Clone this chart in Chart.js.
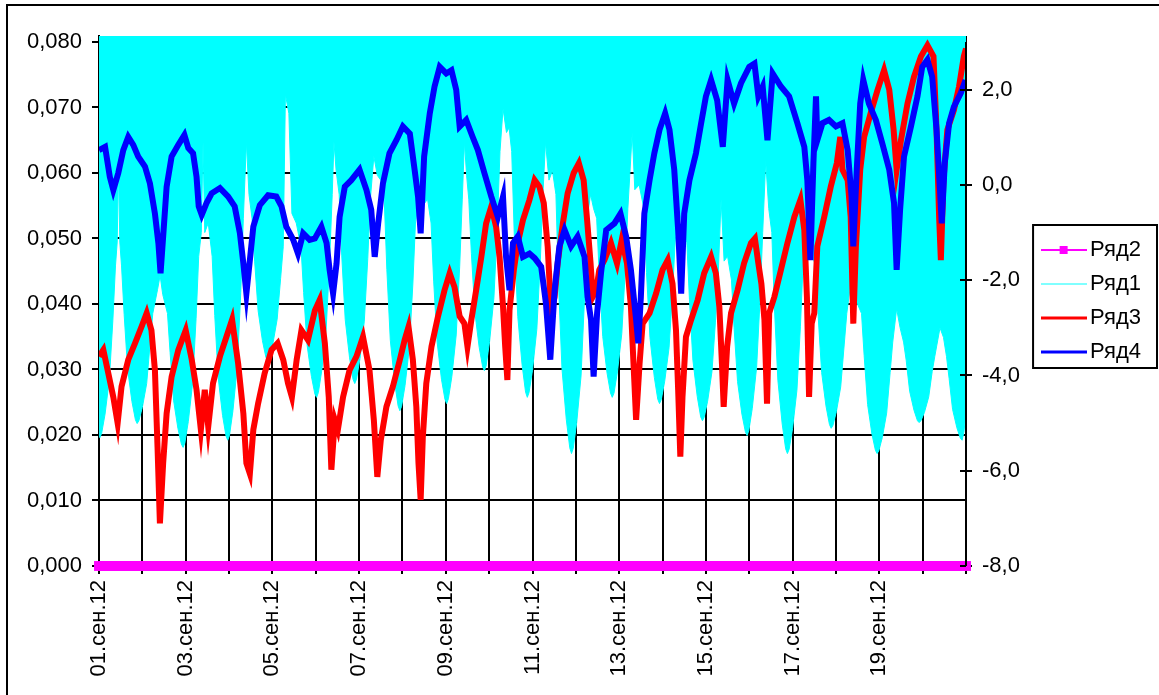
<!DOCTYPE html>
<html>
<head>
<meta charset="utf-8">
<script src="https://cdn.jsdelivr.net/npm/chart.js@4.4.0/dist/chart.umd.min.js"></script>
<style>
html, body { margin: 0; padding: 0; background: #fff; overflow: hidden; }
#wrap { position: relative; width: 1159px; height: 695px; }
#frame { position: absolute; left: 6px; top: 4px; width: 1200px; height: 800px; border: 2px solid #000; }
#myChart { position: absolute; left: 0; top: 0; }
</style>
</head>
<body>
<div id="wrap">
  <div id="frame"></div>
  <canvas id="myChart" width="1159" height="695"></canvas>
</div>
<script>
//-------------Data (x = days since 01.09.2012)
const dateLabels = ['01.сен.12','03.сен.12','05.сен.12','07.сен.12','09.сен.12','11.сен.12','13.сен.12','15.сен.12','17.сен.12','19.сен.12']

// Ряд2 - flat at zero
const pinkDays = [0,1,2,3,4,5,6,7,8,9,10,11,12,13,14,15,16,17,18,19,20]
const pinkVals = [0,0,0,0,0,0,0,0,0,0,0,0,0,0,0,0,0,0,0,0,0]

// Ряд1 - lower edge of the cyan band (right axis), top is off the scale
const cyanDays = [0,0.02,0.06,0.14,0.24,0.32,0.38,0.42,0.45,0.48,0.52,
  0.58,0.66,0.76,0.84,0.88,0.92,1.00,1.10,1.18,1.24,1.35,1.41,1.47,1.58,
  1.64,1.72,1.82,1.90,1.94,1.98,2.06,2.16,2.24,2.30,2.36,2.40,2.44,2.52,2.61,
  2.67,2.75,2.85,2.93,2.97,3.01,3.09,3.19,3.27,3.33,3.40,3.46,3.53,
  3.59,3.67,3.77,3.85,3.89,3.93,4.01,4.11,4.19,4.25,4.30,4.38,4.45,4.55,4.66,
  4.72,4.80,4.90,4.98,5.02,5.06,5.14,5.24,5.32,5.38,5.42,5.47,5.54,
  5.60,5.68,5.78,5.86,5.90,5.94,6.02,6.12,6.20,6.26,6.34,6.42,6.50,6.58,
  6.64,6.72,6.82,6.90,6.94,6.98,7.06,7.16,7.24,7.30,7.40,7.50,7.58,7.66,
  7.72,7.80,7.90,7.98,8.02,8.06,8.14,8.24,8.32,8.38,8.43,8.48,8.53,
  8.59,8.67,8.77,8.85,8.89,8.93,9.01,9.11,9.19,9.25,9.32,9.40,9.46,9.52,
  9.58,9.66,9.76,9.84,9.88,9.92,10.00,10.10,10.18,10.24,10.30,10.38,10.46,10.54,
  10.60,10.68,10.78,10.86,10.90,10.94,11.02,11.12,11.20,11.26,11.34,11.41,11.48,
  11.54,11.62,11.72,11.80,11.84,11.88,11.96,12.06,12.14,12.20,12.30,12.36,12.46,12.57,
  12.63,12.71,12.81,12.89,12.93,12.97,13.05,13.15,13.23,13.29,13.38,13.46,13.56,
  13.62,13.70,13.80,13.88,13.92,13.96,14.04,14.14,14.22,14.28,14.35,14.42,14.50,14.59,
  14.65,14.73,14.83,14.91,14.95,14.99,15.07,15.17,15.25,15.31,15.38,15.45,15.52,
  15.58,15.66,15.76,15.84,15.88,15.92,16.00,16.10,16.18,16.24,16.33,16.42,16.53,
  16.59,16.67,16.77,16.85,16.89,16.93,17.01,17.11,17.19,17.25,17.35,17.45,17.59,
  17.65,17.73,17.83,17.91,17.95,17.99,18.07,18.17,18.25,18.31,18.40,18.48,18.56,
  18.62,18.70,18.80,18.88,18.92,18.96,19.04,19.14,19.22,19.28,19.40,19.48,19.55,
  19.61,19.69,19.79,19.87,19.91,19.95,20.0]
const cyanVals = [-4.0,-5.30,-5.22,-4.81,-4.07,-2.84,-1.7,-1.2,0.4,-1.2,-1.7,
  -2.72,-3.87,-4.55,-4.93,-5.01,-4.95,-4.67,-4.17,-3.32,-2.7,-2.2,-1.9,-2.3,-2.7,
  -3.52,-4.52,-5.11,-5.44,-5.51,-5.42,-4.97,-4.16,-2.80,-1.5,-1.0,0.9,-1.0,-0.8,-1.5,
  -2.74,-4.05,-4.84,-5.27,-5.36,-5.26,-4.74,-3.81,-2.26,-0.7,0.9,-0.2,-0.7,
  -1.60,-2.64,-3.27,-3.62,-3.69,-3.63,-3.34,-2.82,-1.96,-1.3,1.9,1.5,-0.6,-0.8,-1.3,
  -2.26,-3.36,-4.02,-4.39,-4.46,-4.36,-3.89,-3.03,-1.60,-0.2,0.9,0.3,-0.2,
  -1.49,-2.83,-3.63,-4.08,-4.17,-4.08,-3.65,-2.86,-1.55,-0.3,0.6,0.2,0.1,-0.3,
  -1.78,-3.26,-4.15,-4.64,-4.74,-4.65,-4.21,-3.41,-2.08,-0.8,-0.1,-0.4,-0.3,-0.8,
  -2.02,-3.30,-4.08,-4.50,-4.59,-4.49,-4.02,-3.15,-1.72,-0.3,0.9,0.2,-0.3,
  -1.44,-2.67,-3.41,-3.82,-3.90,-3.80,-3.29,-2.37,-0.84,0.7,1.6,1.1,1.2,0.7,
  -1.06,-2.76,-3.78,-4.35,-4.46,-4.36,-3.89,-3.03,-1.60,-0.2,0.9,0.1,0.3,-0.2,
  -2.08,-3.86,-4.93,-5.52,-5.64,-5.53,-4.99,-4.01,-2.38,-0.7,-0.2,-0.5,-0.7,
  -1.90,-3.18,-3.95,-4.37,-4.46,-4.37,-3.92,-3.12,-1.78,-0.5,1.1,-0.1,0.0,-0.5,
  -1.84,-3.21,-4.04,-4.50,-4.59,-4.51,-4.12,-3.42,-2.26,-1.2,-0.4,-1.0,-1.2,
  -2.40,-3.68,-4.44,-4.87,-4.95,-4.88,-4.54,-3.92,-2.88,-2.0,-0.3,-1.6,-1.5,-2.0,
  -3.00,-4.13,-4.81,-5.18,-5.26,-5.16,-4.69,-3.83,-2.40,-1.0,0.5,-0.5,-1.0,
  -2.56,-4.10,-5.02,-5.54,-5.64,-5.55,-5.11,-4.31,-2.98,-1.7,-1.0,-1.4,-1.7,
  -2.76,-3.94,-4.64,-5.03,-5.11,-5.05,-4.76,-4.24,-3.36,-2.7,-2.0,-2.4,-2.7,
  -3.58,-4.61,-5.23,-5.57,-5.64,-5.58,-5.30,-4.79,-3.94,-3.3,-2.6,-3.0,-3.3,
  -3.68,-4.33,-4.73,-4.95,-4.99,-4.95,-4.78,-4.45,-3.92,-3.6,-3.0,-3.2,-3.6,
  -4.06,-4.71,-5.10,-5.32,-5.36,-5.2,-4.8]

// Ряд3 - red (left axis)
const redDays = [0,0.10,0.215,0.33,0.43,0.52,0.675,0.83,0.98,1.10,1.21,1.29,1.35,1.405,1.48,1.56,1.675,1.83,2.00,2.14,2.25,2.35,2.44,2.52,2.63,2.79,2.94,3.07,3.21,3.33,3.40,3.48,3.56,3.67,3.82,3.98,4.12,4.25,4.36,4.45,4.56,4.67,4.82,4.98,5.09,5.21,5.30,5.36,5.44,5.51,5.63,5.78,5.94,6.09,6.24,6.34,6.42,6.50,6.63,6.78,6.94,7.05,7.14,7.24,7.32,7.37,7.42,7.47,7.55,7.67,7.82,7.97,8.09,8.20,8.32,8.43,8.50,8.59,8.70,8.82,8.93,9.05,9.16,9.24,9.32,9.37,9.42,9.47,9.57,9.66,9.78,9.93,10.05,10.16,10.26,10.35,10.43,10.51,10.58,10.70,10.81,10.95,11.07,11.18,11.26,11.34,11.39,11.47,11.54,11.66,11.81,11.95,12.06,12.18,12.27,12.33,12.39,12.47,12.54,12.70,12.85,13.00,13.12,13.23,13.31,13.36,13.41,13.46,13.54,13.66,13.81,13.96,14.12,14.23,14.31,14.37,14.41,14.49,14.58,14.73,14.88,15.04,15.13,15.21,15.28,15.35,15.41,15.46,15.58,15.73,15.88,16.04,16.18,16.27,16.33,16.38,16.44,16.50,16.57,16.73,16.88,17.02,17.10,17.15,17.27,17.34,17.40,17.46,17.56,17.65,17.80,17.96,18.11,18.23,18.33,18.40,18.50,18.65,18.80,18.96,19.11,19.25,19.32,19.38,19.42,19.48,19.57,19.72,19.84,19.95,20.0]
const redVals = [0.0320,0.0330,0.0294,0.0258,0.0218,0.0274,0.0315,0.0340,0.0365,0.0386,0.0360,0.0299,0.0182,0.0065,0.0157,0.0233,0.0289,0.0330,0.0360,0.0315,0.0269,0.0208,0.0269,0.0213,0.0279,0.0320,0.0350,0.0376,0.0309,0.0233,0.0157,0.0141,0.0208,0.0248,0.0294,0.0330,0.0340,0.0315,0.0279,0.0258,0.0315,0.0360,0.0345,0.0390,0.0406,0.0340,0.0258,0.0147,0.0223,0.0208,0.0258,0.0299,0.0320,0.0350,0.0299,0.0223,0.0136,0.0192,0.0243,0.0274,0.0315,0.0345,0.0365,0.0315,0.0243,0.0157,0.0101,0.0197,0.0279,0.0335,0.0381,0.0421,0.0447,0.0426,0.0381,0.0370,0.0335,0.0376,0.0421,0.0472,0.0523,0.0549,0.0518,0.0472,0.0396,0.0335,0.0284,0.0391,0.0452,0.0493,0.0528,0.0559,0.0589,0.0579,0.0554,0.0488,0.0386,0.0411,0.0462,0.0523,0.0569,0.0600,0.0615,0.0589,0.0528,0.0462,0.0411,0.0421,0.0452,0.0467,0.0493,0.0462,0.0498,0.0462,0.0396,0.0309,0.0223,0.0309,0.0370,0.0386,0.0416,0.0452,0.0467,0.0431,0.0360,0.0269,0.0167,0.0258,0.0350,0.0376,0.0406,0.0447,0.0472,0.0447,0.0396,0.0309,0.0243,0.0335,0.0386,0.0421,0.0462,0.0493,0.0500,0.0462,0.0431,0.0376,0.0248,0.0386,0.0411,0.0452,0.0493,0.0533,0.0559,0.0513,0.0411,0.0258,0.0370,0.0386,0.0488,0.0533,0.0579,0.0615,0.0655,0.0605,0.0589,0.0533,0.0370,0.0488,0.0605,0.0655,0.0691,0.0727,0.0757,0.0727,0.0666,0.0605,0.0650,0.0706,0.0747,0.0778,0.0795,0.0778,0.0666,0.0533,0.0467,0.0589,0.0666,0.0696,0.0732,0.0778,0.0790]

// Ряд4 - blue (left axis)
const blueDays = [0,0.14,0.25,0.33,0.445,0.56,0.675,0.79,0.905,1.06,1.175,1.29,1.37,1.42,1.48,1.56,1.675,1.83,1.97,2.06,2.17,2.25,2.30,2.37,2.48,2.60,2.79,2.98,3.13,3.25,3.33,3.40,3.48,3.56,3.71,3.90,4.09,4.21,4.32,4.48,4.59,4.71,4.86,4.98,5.13,5.25,5.32,5.40,5.48,5.55,5.67,5.82,6.01,6.17,6.28,6.36,6.44,6.55,6.70,6.86,7.01,7.17,7.28,7.36,7.42,7.50,7.63,7.74,7.86,8.01,8.13,8.24,8.32,8.47,8.62,8.74,8.89,9.05,9.20,9.32,9.39,9.47,9.55,9.66,9.78,9.93,10.05,10.20,10.31,10.41,10.51,10.62,10.74,10.89,11.04,11.20,11.27,11.35,11.41,11.49,11.58,11.70,11.89,12.03,12.16,12.27,12.39,12.44,12.50,12.58,12.70,12.81,12.93,13.06,13.16,13.27,13.36,13.43,13.50,13.62,13.77,13.89,14.00,14.12,14.26,14.39,14.50,14.65,14.81,15.00,15.12,15.21,15.31,15.42,15.54,15.73,15.92,16.11,16.27,16.34,16.41,16.48,16.54,16.57,16.69,16.84,17.00,17.15,17.27,17.36,17.40,17.48,17.56,17.63,17.76,17.92,18.07,18.23,18.34,18.40,18.48,18.57,18.73,18.88,18.99,19.11,19.22,19.32,19.40,19.44,19.51,19.61,19.72,19.88,19.99]
const blueVals = [0.0635,0.0640,0.0594,0.0574,0.0600,0.0635,0.0655,0.0643,0.0625,0.0610,0.0584,0.0538,0.0493,0.0447,0.0503,0.0579,0.0625,0.0643,0.0658,0.0638,0.0630,0.0594,0.0549,0.0536,0.0554,0.0569,0.0577,0.0564,0.0549,0.0508,0.0462,0.0416,0.0467,0.0518,0.0551,0.0566,0.0564,0.0549,0.0518,0.0498,0.0477,0.0508,0.0498,0.0500,0.0518,0.0493,0.0452,0.0416,0.0462,0.0533,0.0579,0.0589,0.0605,0.0574,0.0544,0.0472,0.0523,0.0584,0.0630,0.0650,0.0671,0.0660,0.0605,0.0564,0.0508,0.0625,0.0691,0.0732,0.0762,0.0752,0.0757,0.0727,0.0671,0.0681,0.0655,0.0635,0.0600,0.0564,0.0533,0.0564,0.0472,0.0421,0.0493,0.0503,0.0472,0.0477,0.0470,0.0457,0.0401,0.0315,0.0421,0.0488,0.0513,0.0488,0.0503,0.0472,0.0411,0.0376,0.0289,0.0386,0.0447,0.0513,0.0523,0.0538,0.0503,0.0452,0.0376,0.0340,0.0411,0.0538,0.0589,0.0630,0.0666,0.0691,0.0666,0.0605,0.0513,0.0416,0.0538,0.0589,0.0630,0.0676,0.0717,0.0742,0.0711,0.0640,0.0742,0.0706,0.0737,0.0762,0.0767,0.0717,0.0732,0.0650,0.0752,0.0732,0.0717,0.0676,0.0640,0.0589,0.0467,0.0615,0.0717,0.0650,0.0676,0.0681,0.0671,0.0676,0.0635,0.0564,0.0488,0.0605,0.0706,0.0742,0.0706,0.0681,0.0645,0.0605,0.0554,0.0452,0.0544,0.0625,0.0671,0.0717,0.0762,0.0773,0.0747,0.0666,0.0574,0.0523,0.0615,0.0676,0.0701,0.0722,0.0742]

const font = { family: '"Liberation Sans", Arial, sans-serif', size: 22 }

function pts(days, vals) {
    return days.map((d, i) => ({ x: d, y: vals[i] }))
}

// legend samples like the excel ones
function legendIcon(color, width, marker) {
    const c = document.createElement('canvas')
    c.width = 46; c.height = 12
    const g = c.getContext('2d')
    g.strokeStyle = color
    g.lineWidth = width
    g.beginPath(); g.moveTo(0, 6); g.lineTo(46, 6); g.stroke()
    if (marker) { g.fillStyle = color; g.fillRect(19, 2, 8, 8) }
    return c
}
const icons = [legendIcon('#ff00ff', 2, true), legendIcon('#00ffff', 1, false), legendIcon('#ff0000', 3, false), legendIcon('#0000ff', 3, false)]

// box around the legend
const legendFrame = {
    id: 'legendFrame',
    afterDraw(chart) {
        const lg = chart.legend
        if (!lg || !lg.legendHitBoxes.length) return
        const hb = lg.legendHitBoxes
        const last = hb[hb.length - 1]
        const left = hb[0].left - 15
        const top = hb[0].top - 14
        const bottom = last.top + last.height + 5
        const ctx = chart.ctx
        ctx.save()
        ctx.strokeStyle = '#000'
        ctx.lineWidth = 2
        ctx.strokeRect(left, top, chart.width - 2 - left, bottom - top)
        ctx.restore()
    }
}

// right axis line drawn over the cyan area
const rightAxis = {
    id: 'rightAxis',
    afterDatasetsDraw(chart) {
        const s = chart.scales.y2
        const x = chart.chartArea.right
        const ctx = chart.ctx
        ctx.save()
        ctx.strokeStyle = '#000'
        ctx.lineWidth = 2
        ctx.beginPath()
        ctx.moveTo(x, s.getPixelForValue(3))
        ctx.lineTo(x, chart.chartArea.bottom)
        s.ticks.forEach(t => {
            const y = Math.round(s.getPixelForValue(t.value))
            ctx.moveTo(x - 6, y); ctx.lineTo(x, y)
        })
        ctx.stroke()
        ctx.restore()
    }
}

const ctx = document.getElementById('myChart').getContext('2d')
Graph = new Chart(ctx, {
    type: 'line',
    data: {
        datasets: [{
            label: 'Ряд2',
            data: pts(pinkDays, pinkVals),
            yAxisID: 'y',
            borderColor: '#ff00ff',
            backgroundColor: '#ff00ff',
            borderWidth: 10,
            pointStyle: 'rect',
            pointRadius: 7,
            pointBorderWidth: 0,
            clip: { left: 8, top: 0, right: 8, bottom: 8 },
            order: 0
        }, {
            label: 'Ряд1',
            data: pts(cyanDays, cyanVals),
            yAxisID: 'y2',
            borderColor: '#00ffff',
            backgroundColor: '#00ffff',
            borderWidth: 1,
            fill: 'end',
            pointRadius: 0,
            order: 3
        }, {
            label: 'Ряд3',
            data: pts(redDays, redVals),
            yAxisID: 'y',
            borderColor: '#ff0000',
            borderWidth: 6,
            pointRadius: 0,
            order: 2
        }, {
            label: 'Ряд4',
            data: pts(blueDays, blueVals),
            yAxisID: 'y',
            borderColor: '#0000ff',
            borderWidth: 6,
            pointRadius: 0,
            order: 1
        }]
    },
    options: {
        responsive: false,
        animation: false,
        layout: { padding: { top: 36, right: 8, bottom: 0, left: 0 } },
        plugins: {
            tooltip: { enabled: false },
            legend: {
                position: 'right',
                fullSize: false,
                labels: {
                    usePointStyle: true,
                    pointStyleWidth: 31,
                    padding: 12,
                    color: '#000',
                    font: font,
                    sort: (a, b) => a.datasetIndex - b.datasetIndex,
                    generateLabels(chart) {
                        const items = Chart.defaults.plugins.legend.labels.generateLabels(chart)
                        items.forEach(it => { it.pointStyle = icons[it.datasetIndex] })
                        return items
                    }
                }
            }
        },
        scales: {
            x: {
                type: 'linear',
                min: 0,
                max: 20,
                afterFit(s) { s.height = 129 },
                grid: { color: '#000', lineWidth: 2, tickLength: 8 },
                border: { color: '#000', width: 2 },
                ticks: {
                    stepSize: 1,
                    autoSkip: false,
                    maxRotation: 90,
                    minRotation: 90,
                    padding: 6,
                    color: '#000',
                    font: font,
                    callback: (v) => (v % 2 === 0 && v / 2 < dateLabels.length) ? dateLabels[v / 2] : ''
                }
            },
            y: {
                position: 'left',
                min: 0,
                max: 0.080916,
                afterFit(s) { s.width = 99 },
                afterBuildTicks(s) { s.ticks = s.ticks.filter(t => t.value <= 0.0801) },
                grid: { color: '#000', lineWidth: 2, tickLength: 7 },
                border: { color: '#000', width: 2 },
                ticks: {
                    stepSize: 0.01,
                    includeBounds: false,
                    padding: 10,
                    color: '#000',
                    font: font,
                    callback: (v) => v.toFixed(3).replace('.', ',')
                }
            },
            y2: {
                position: 'right',
                min: -8,
                max: 3.1255,
                afterFit(s) {
                    const lw = (s.chart.legend && s.chart.legend.width) || 106
                    s.width = s.chart.width - 8 - lw - 966
                },
                afterBuildTicks(s) { s.ticks = s.ticks.filter(t => t.value <= 2.01) },
                grid: { drawOnChartArea: false, color: '#000', lineWidth: 2, tickLength: 6 },
                border: { display: false },
                ticks: {
                    stepSize: 2,
                    includeBounds: false,
                    padding: 10,
                    color: '#000',
                    font: font,
                    callback: (v) => v.toFixed(1).replace('.', ',')
                }
            }
        }
    },
    plugins: [legendFrame, rightAxis]
})
</script>
</body>
</html>
